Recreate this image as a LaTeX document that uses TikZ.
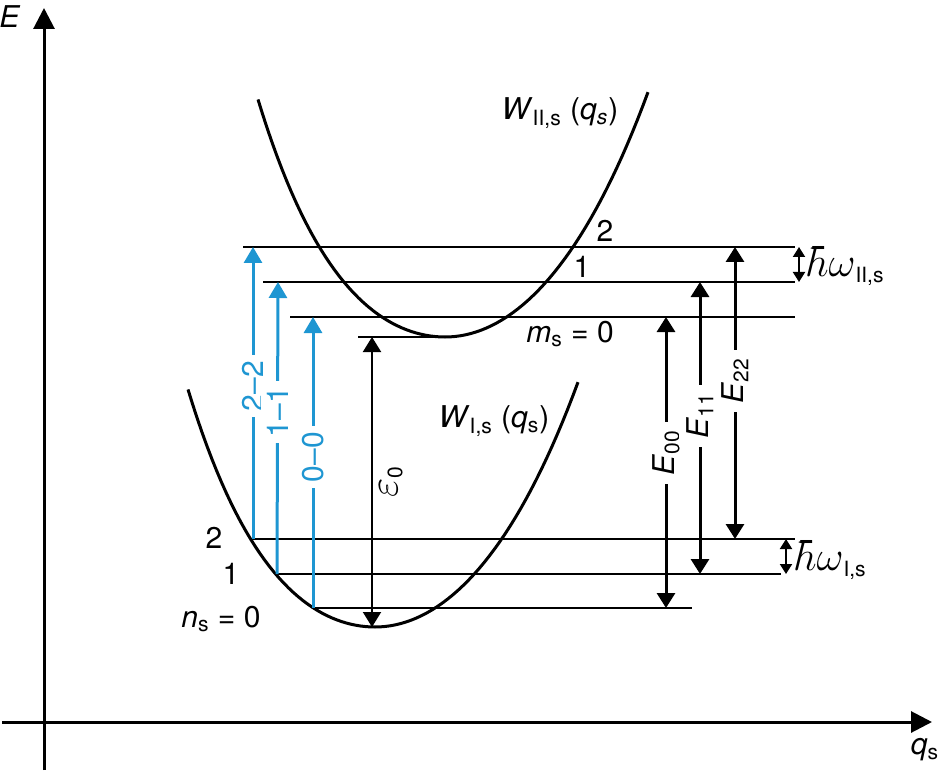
\documentclass[tikz,border=0pt]{standalone}
\usepackage{fontspec}
\setmainfont{TeX Gyre Heros}
\usetikzlibrary{arrows.meta}
\definecolor{transblue}{RGB}{30,150,210}
\newcommand\scaledmath[1]{\scalebox{1.45}{$#1$}}
\begin{document}
\begin{tikzpicture}[x=0.5pt,y=-0.5pt,
    font=\fontsize{15}{18}\selectfont,
    axis/.style={line width=1.5pt,-{Triangle[width=10.5pt,length=10.5pt]}},
    curve/.style={line width=1.5pt},
    level/.style={line width=1pt},
    trans/.style={line width=1.5pt,transblue,-{Triangle[width=9pt,length=8pt]}},
    gap/.style={line width=1.5pt,{Triangle[width=9pt,length=7.5pt]}-{Triangle[width=9pt,length=7.5pt]}},
    quant/.style={line width=1pt,{Triangle[width=6pt,length=5pt]}-{Triangle[width=6pt,length=5pt]}},
    vlabel/.style={rotate=90,fill=white,inner sep=3pt}
  ]
  \useasboundingbox (0,0) rectangle (942,775);

  % axes
  \coordinate (ybot) at (44,770);
  \coordinate (ytop) at (44,8);
  \coordinate (xleft) at (2,722);
  \coordinate (xright) at (932,722);
  \draw[axis] (ybot) -- (ytop);
  \draw[axis] (xleft) -- (xright);
  \node (elabel) at (10,17) {\textit{E}};
  \node (qlabel) at (925,750) {\textit{q}\textsubscript{s}};

  % potential curves (left and right branches)
  \draw[curve] plot[domain=-1.87:0,samples=40] ({445+100*\x},{337-48*\x*\x-5.7*\x*\x*\x*\x})
    -- plot[domain=0:2.03,samples=40] ({445+100*\x},{337-52*\x*\x-1.8*\x*\x*\x*\x});
  \draw[curve] plot[domain=-1.87:0,samples=40] ({375+100*\x},{627-48*\x*\x-5.7*\x*\x*\x*\x})
    -- plot[domain=0:2.03,samples=40] ({375+100*\x},{627-52*\x*\x-1.8*\x*\x*\x*\x});
  \node (wII) at (560,113) {\textit{W}\textsubscript{II,s}\ (\textit{q}\textsubscript{\textit{s}})};
  \node (wI) at (494,421) {\textit{W}\textsubscript{I,s}\ (\textit{q}\textsubscript{s})};

  % vibrational levels, upper state
  \coordinate (m0l) at (290,317);  \coordinate (m0r) at (795,317);
  \coordinate (m1l) at (263,282);  \coordinate (m1r) at (795,282);
  \coordinate (m2l) at (243,247);  \coordinate (m2r) at (795,247);
  \coordinate (vtxl) at (358,337); \coordinate (vtxr) at (445,337);
  % vibrational levels, lower state
  \coordinate (n0l) at (313,608);  \coordinate (n0r) at (692,608);
  \coordinate (n1l) at (277,574);  \coordinate (n1r) at (781,574);
  \coordinate (n2l) at (252,539);  \coordinate (n2r) at (795,539);
  \coordinate (botv) at (372,627);

  \draw[level] (m0l) -- (m0r);
  \draw[level] (m1l) -- (m1r);
  \draw[level] (m2l) -- (m2r);
  \draw[level] (vtxl) -- (vtxr);
  \draw[level] (n0l) -- (n0r);
  \draw[level] (n1l) -- (n1r);
  \draw[level] (n2l) -- (n2r);

  \node (m2lab) at (605,231) {2};
  \node (m1lab) at (582,267) {1};
  \node (m0lab) at (570,334) {\textit{m}\textsubscript{s} = 0};
  \node (n2lab) at (214,538) {2};
  \node (n1lab) at (231,574) {1};
  \node (n0lab) at (221,619) {\textit{n}\textsubscript{s} = 0};

  % transitions
  \coordinate (t22) at (253,247);
  \coordinate (t11) at (278,282);
  \coordinate (t00) at (313,317);
  \draw[trans] (253,539) -- (t22);
  \draw[trans] (n1l) -- (t11);
  \draw[trans] (n0l) -- (t00);
  \node[vlabel,text=transblue] (l22) at (253,386) {2–2};
  \node[vlabel,text=transblue] (l11) at (278,412) {1–1};
  \node[vlabel,text=transblue] (l00) at (313,457) {0–0};

  % energy gaps
  \coordinate (epsT) at (372,337);
  \draw[gap,line width=1pt] (epsT) -- (botv);
  \node[rotate=90] (eps) at (391,482) {\scaledmath{\varepsilon}\textsubscript{0}};

  \coordinate (e00b) at (666,608); \coordinate (e00t) at (666,317);
  \coordinate (e11b) at (700,574); \coordinate (e11t) at (700,282);
  \coordinate (e22b) at (735,539); \coordinate (e22t) at (735,247);
  \draw[gap] (e00b) -- (e00t);
  \draw[gap] (e11b) -- (e11t);
  \draw[gap] (e22b) -- (e22t);
  \node[vlabel,inner sep=4pt] (E00) at (666,453) {\textit{E}\textsubscript{00}};
  \node[vlabel,inner sep=4pt] (E11) at (700,416) {\textit{E}\textsubscript{11}};
  \node[vlabel,inner sep=4pt] (E22) at (735,381) {\textit{E}\textsubscript{22}};

  % quanta
  \coordinate (qIIt) at (799,247); \coordinate (qIIb) at (799,282);
  \coordinate (qIt) at (786,539);  \coordinate (qIb) at (786,574);
  \draw[quant] (qIIt) -- (qIIb);
  \draw[quant] (qIt) -- (qIb);
  \node[anchor=west,inner sep=0pt] (hwII) at (811,266) {\scaledmath{\hbar\omega}\textsubscript{II,s}};
  \node[anchor=west,inner sep=0pt] (hwI) at (799,560) {\scaledmath{\hbar\omega}\textsubscript{I,s}};
\end{tikzpicture}
\end{document}
